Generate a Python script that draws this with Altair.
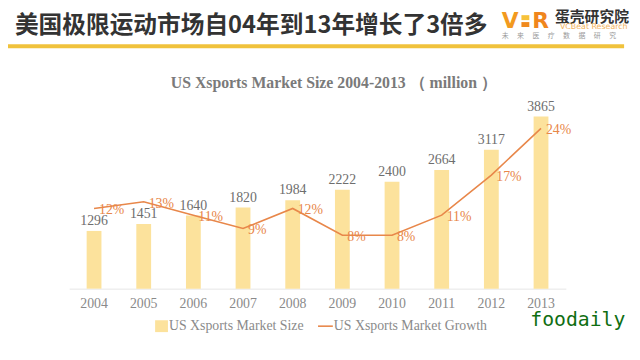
import altair as alt
import pandas as pd

years = ["2004", "2005", "2006", "2007", "2008", "2009", "2010", "2011", "2012", "2013"]
market_size = [1296, 1451, 1640, 1820, 1984, 2222, 2400, 2664, 3117, 3865]
growth = [0.12, 0.13, 0.11, 0.09, 0.12, 0.08, 0.08, 0.11, 0.17, 0.24]
growth_labels = ["12%", "13%", "11%", "9%", "12%", "8%", "8%", "11%", "17%", "24%"]
left_ticks = [0, 500, 1000, 1500, 2000, 2500, 3000, 3500, 4000, 4500]
right_ticks = [0, 0.05, 0.10, 0.15, 0.20, 0.25, 0.30]

headline = "美国极限运动市场自04年到13年增长了3倍多"
chart_title = "US Xsports Market Size 2004-2013 （ million ）"
legend_bar = "US Xsports Market Size"
legend_line = "US Xsports Market Growth"

BAR = "#FCE29C"
LINE = "#E8874A"
GRAY = "#8a8a8a"
SERIF = "Liberation Serif"

df = pd.DataFrame({"year": years, "size": market_size, "growth": growth, "glabel": growth_labels})
one = pd.DataFrame({"a": [0]})

x = alt.X("year:N", sort=years, title=None,
          scale=alt.Scale(paddingInner=0.2, paddingOuter=0.1),
          axis=alt.Axis(labelAngle=0, labelFont=SERIF, labelFontSize=14, labelColor=GRAY,
                        ticks=False, domainColor="#e6e6e6", labelPadding=8))

ysize = alt.Y("size:Q", title=None,
              scale=alt.Scale(domain=[0, 4500], nice=False),
              axis=alt.Axis(orient="left", values=left_ticks, grid=False, ticks=False, domain=False,
                            labelFont=SERIF, labelFontSize=13, labelColor=GRAY, labelPadding=13))
ygrowth = alt.Y("growth:Q", title=None,
                scale=alt.Scale(domain=[0, 0.30], nice=False),
                axis=alt.Axis(orient="right", values=right_ticks, format=".0%", grid=False, ticks=False,
                              domain=False, labelFont=SERIF, labelFontSize=13, labelColor=GRAY,
                              labelPadding=12))

base = alt.Chart(df)
bars = base.mark_bar(color=BAR, size=15).encode(x=x, y=ysize)
bar_labels = base.mark_text(font=SERIF, fontSize=14, color="#6e6e6e", baseline="bottom", dy=-3).encode(
    x=x, y=alt.Y("size:Q", scale=alt.Scale(domain=[0, 4500], nice=False), axis=None), text="size:Q")

left = alt.layer(bars, bar_labels)

line = base.mark_line(color=LINE, strokeWidth=1.6).encode(x=x, y=ygrowth)
line_labels = base.mark_text(font=SERIF, fontSize=14, color=LINE, align="left", baseline="middle",
                             dx=5, dy=2).encode(
    x=x, y=alt.Y("growth:Q", scale=alt.Scale(domain=[0, 0.30], nice=False), axis=None), text="glabel:N")
right = alt.layer(line, line_labels)

d = alt.Chart(one)
deco = [
    d.mark_text(text=headline, font="Noto Sans CJK SC", fontWeight="bold", fontSize=24, color="#333333",
                align="left", baseline="middle").encode(x=alt.value(-55), y=alt.value(-63)),
    d.mark_rule(color="#F0C23C", strokeWidth=4).encode(x=alt.value(-62), x2=alt.value(562), y=alt.value(-42.5)),
    d.mark_text(text="V", font="DejaVu Sans", fontWeight="bold", fontSize=22, color="#F29A1F",
                align="center", baseline="middle").encode(x=alt.value(446.5), y=alt.value(-68)),
    d.mark_rect(color="#F7C23A").encode(x=alt.value(458), x2=alt.value(466), y=alt.value(-74), y2=alt.value(-69)),
    d.mark_rect(color="#F08A1E").encode(x=alt.value(458), x2=alt.value(466), y=alt.value(-67), y2=alt.value(-62)),
    d.mark_text(text="R", font="DejaVu Sans", fontWeight="bold", fontSize=22, color="#F0861C",
                align="center", baseline="middle").encode(x=alt.value(477.5), y=alt.value(-68)),
    d.mark_text(text="蛋壳研究院", font="Noto Sans CJK SC", fontWeight="bold", fontSize=15, color="#333333",
                align="left", baseline="middle").encode(x=alt.value(492), y=alt.value(-72.5)),
    d.mark_text(text="VCBeat  Research", font="DejaVu Sans", fontSize=8, color="#F3B35A",
                align="left", baseline="middle").encode(x=alt.value(497), y=alt.value(-61.5)),
    d.mark_text(text="未　 来　 医　 疗　 数　 据　 研　 究", font="Noto Sans CJK SC", fontSize=7,
                color="#9a9a9a", align="left", baseline="middle").encode(x=alt.value(438), y=alt.value(-52.5)),
    d.mark_text(text=chart_title, font=SERIF, fontWeight="bold", fontSize=16, color="#7a7a7a",
                align="center", baseline="middle").encode(x=alt.value(268), y=alt.value(-5)),
    d.mark_rect(color=BAR).encode(x=alt.value(87), x2=alt.value(100), y=alt.value(235), y2=alt.value(247)),
    d.mark_text(text=legend_bar, font=SERIF, fontSize=14, color=GRAY, align="left", baseline="middle").encode(
        x=alt.value(101), y=alt.value(241)),
    d.mark_rule(color=LINE, strokeWidth=1.6).encode(x=alt.value(252), x2=alt.value(267), y=alt.value(241)),
    d.mark_text(text=legend_line, font=SERIF, fontSize=14, color=GRAY, align="left", baseline="middle").encode(
        x=alt.value(268), y=alt.value(241)),
    d.mark_text(text="foodaily", font="DejaVu Sans Mono", fontSize=20, color="#0f6e12", align="left",
                baseline="middle").encode(x=alt.value(467), y=alt.value(235)),
]

chart = alt.layer(left, right, *deco).resolve_scale(y="independent").properties(
    width=503, height=203,
    autosize=alt.AutoSizeParams(type="none"),
    padding={"left": 62, "top": 79, "right": 67, "bottom": 70},
    background="white",
).configure_view(stroke=None)

chart.save("out.html", embed_options={"renderer": "svg", "actions": False})
